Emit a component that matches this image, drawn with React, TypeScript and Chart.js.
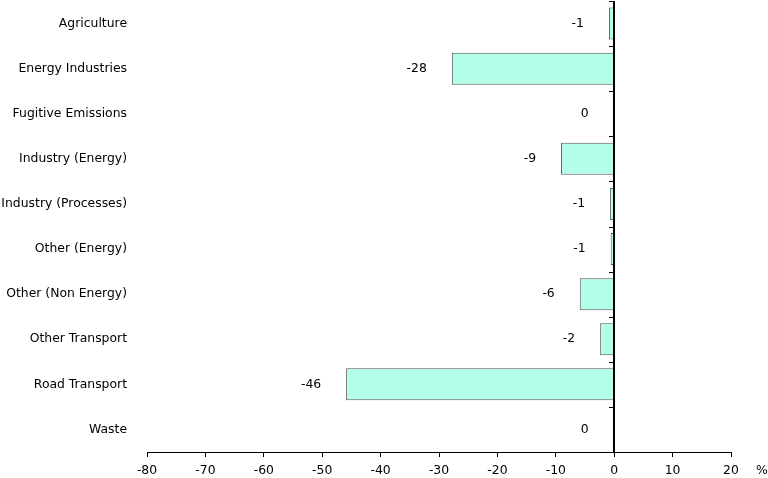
import React, { useEffect, useRef } from "react";
import { Chart, registerables } from "chart.js";

Chart.register(...registerables);

const categories = [
  "Agriculture",
  "Energy Industries",
  "Fugitive Emissions",
  "Industry (Energy)",
  "Industry (Processes)",
  "Other (Energy)",
  "Other (Non Energy)",
  "Other Transport",
  "Road Transport",
  "Waste",
];
const changeValues = [-0.9, -27.8, -0.1, -9.1, -0.7, -0.6, -5.9, -2.4, -45.9, -0.1];
const valueLabels = ["-1", "-28", "0", "-9", "-1", "-1", "-6", "-2", "-46", "0"];
const xMin = -80;
const xMax = 20;
const xStep = 10;
const unitLabel = "%";

const FONT = "'DejaVu Sans', Verdana, sans-serif";
const FSIZE = 12.4;

export default function App() {
  const ref = useRef<HTMLCanvasElement | null>(null);
  useEffect(() => {
    document.body.style.margin = "0";
    const canvas = ref.current;
    if (!canvas) return;
    const overlayPlugin = {
      id: "overlay",
      afterDatasetsDraw(chart: any) {
        const ctx = chart.ctx;
        const xs = chart.scales.x;
        const ys = chart.scales.y;
        const area = chart.chartArea;
        ctx.save();
        // zero line with category boundary ticks
        const zx = Math.round(xs.getPixelForValue(0));
        ctx.strokeStyle = "#000";
        ctx.lineWidth = 2;
        ctx.beginPath();
        ctx.moveTo(zx, area.top);
        ctx.lineTo(zx, area.bottom);
        ctx.stroke();
        ctx.lineWidth = 1;
        const n = categories.length;
        for (let i = 0; i <= n; i++) {
          const y = Math.round(ys.getPixelForValue(i - 0.5)) + 0.5;
          ctx.beginPath();
          ctx.moveTo(zx, y);
          ctx.lineTo(zx - 5, y);
          ctx.stroke();
        }
        // value labels
        const meta = chart.getDatasetMeta(0);
        ctx.font = `${FSIZE}px ${FONT}`;
        ctx.fillStyle = "#000";
        ctx.textAlign = "right";
        ctx.textBaseline = "middle";
        meta.data.forEach((el: any, i: number) => {
          const x = Math.min(el.x, el.base) - 25;
          ctx.fillText(valueLabels[i], x, el.y);
        });
        // unit label
        ctx.textAlign = "center";
        const tickY = xs.top + 5 + 6 + 7.4;
        ctx.fillText(unitLabel, chart.width - 6, tickY);
        ctx.restore();
      },
    };
    const chart = new Chart(canvas, {
      type: "bar",
      data: {
        labels: categories,
        datasets: [
          {
            data: changeValues,
            backgroundColor: "#b3ffea",
            borderColor: "#555555",
            borderWidth: 1,
            barPercentage: 0.71,
            categoryPercentage: 1,
          },
        ],
      },
      options: {
        indexAxis: "y",
        animation: false,
        responsive: false,
        maintainAspectRatio: false,
        layout: { padding: { top: 1, right: 37, left: 0, bottom: 0 } },
        plugins: { legend: { display: false }, tooltip: { enabled: false } },
        scales: {
          x: {
            min: xMin,
            max: xMax,
            ticks: {
              stepSize: xStep,
              color: "#000",
              font: { family: FONT, size: FSIZE },
              padding: 6,
            },
            grid: {
              drawOnChartArea: false,
              drawTicks: true,
              tickLength: 5,
              color: "#000",
            },
            border: { color: "#000", width: 1 },
            afterFit: (scale: any) => {
              scale.height = 26;
            },
          },
          y: {
            type: "category",
            ticks: {
              color: "#000",
              font: { family: FONT, size: FSIZE },
              padding: 0,
            },
            grid: {
              display: true,
              drawOnChartArea: false,
              drawTicks: true,
              tickLength: 20,
              color: "rgba(0,0,0,0)",
            },
            border: { display: false },
            afterFit: (scale: any) => {
              scale.width = 147;
              scale.paddingTop = 0;
              scale.paddingBottom = 0;
            },
          },
        },
      },
      plugins: [overlayPlugin],
    });
    return () => chart.destroy();
  }, []);
  return (
    <div style={{ position: "absolute", left: 0, top: 0, width: 768, height: 478 }}>
      <canvas ref={ref} width={768} height={478} />
    </div>
  );
}
